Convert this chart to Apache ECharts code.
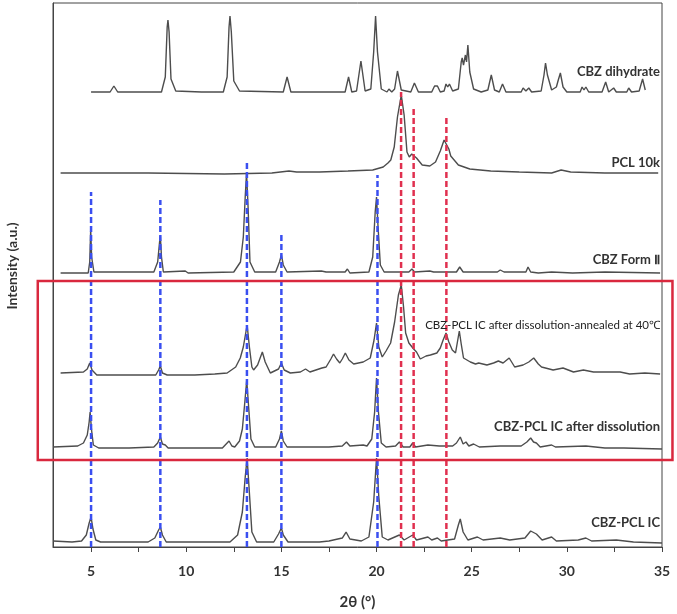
<!DOCTYPE html>
<html>
<head>
<meta charset="utf-8">
<script src="https://cdn.jsdelivr.net/npm/echarts@6/dist/echarts.min.js"></script>
<style>
  html, body { margin: 0; padding: 0; background: #fff; }
  #charts { width: 677px; height: 614px; }
</style>
</head>
<body>
<div id="charts"></div>
<script>
// 2theta tick positions
var tickValues = [5, 7.5, 10, 12.5, 15, 17.5, 20, 22.5, 25, 27.5, 30, 32.5, 35];
var labelValues = [5, 10, 15, 20, 25, 30, 35];

// stacked XRD traces, [2theta, intensity with offset]
var cbzDihydrate = [[5.0,455],[6.0,455],[6.2,461],[6.4,455],[8.7,455],[8.9,470],[9.0,520],[9.04,527],[9.1,515],[9.2,468],[9.45,456],[10.8,455],[10.9,457],[11.0,455],[11.95,455],[12.15,470],[12.25,520],[12.3,531],[12.37,515],[12.5,466],[12.8,456],[15.1,455],[15.3,470],[15.5,455],[18.35,455],[18.53,470],[18.7,455],[18.95,456],[19.18,486],[19.4,456],[19.7,458],[19.85,495],[19.95,531],[20.05,495],[20.25,458],[20.55,455],[20.65,458],[20.8,455],[20.95,458],[21.1,476],[21.3,457],[21.8,455],[21.99,464],[22.2,455],[22.9,455],[23.05,461],[23.12,459],[23.2,461],[23.35,455],[23.55,456],[23.65,463],[23.74,460],[23.83,463],[24.0,456],[24.3,458],[24.45,485],[24.5,489],[24.57,482],[24.67,492],[24.73,485],[24.8,502],[24.9,475],[25.1,458],[25.5,455],[25.85,457],[26.03,472],[26.2,457],[26.45,455],[26.62,463],[26.8,455],[27.6,455],[27.7,459],[27.85,456],[28.0,459],[28.15,455],[28.65,456],[28.8,472],[28.88,484],[28.98,472],[29.2,457],[29.45,460],[29.55,467],[29.66,474],[29.8,460],[30.0,455],[30.7,455],[30.8,460],[30.9,457],[31.0,460],[31.15,455],[31.85,455],[32.04,465],[32.2,455],[32.46,459],[32.6,455],[33.15,455],[33.25,459],[33.4,455],[33.8,456],[33.98,468],[34.12,457]];

var pcl10k = [[3.4,374],[8,374],[12,373],[14.5,374],[15.4,376],[15.8,375],[17,375],[18.5,376],[19.8,377],[20.35,380],[20.6,384],[20.75,387],[20.93,400],[21.1,430],[21.3,452],[21.45,432],[21.6,395],[21.72,390],[21.85,393],[21.95,395],[22.1,389],[22.4,382],[22.8,381],[23.1,385],[23.35,396],[23.55,407],[23.65,409],[23.8,398],[23.9,391],[24.0,389],[24.3,382],[24.9,378],[26,376],[27.5,375],[29.2,374],[29.7,377],[30.2,375],[32,374],[34.8,374]];

var cbzFormII = [[3.4,274],[4.85,274],[4.93,285],[4.98,317],[5.03,290],[5.15,275],[8.3,275],[8.5,285],[8.6,305],[8.64,311],[8.7,290],[8.8,275],[9.95,276],[10.1,274],[12.5,275],[12.85,285],[13.0,310],[13.1,350],[13.17,374],[13.25,340],[13.35,285],[13.6,275],[14.7,275],[14.9,285],[15.0,292],[15.1,282],[15.3,275],[17.1,276],[17.2,277],[17.35,275],[18.35,275],[18.47,278],[18.6,274],[19.6,275],[19.8,290],[19.93,335],[20.0,350],[20.08,320],[20.2,282],[20.4,275],[21.7,275],[21.86,278],[22.0,275],[22.8,276],[23.0,275],[24.2,275],[24.37,280],[24.55,275],[26.35,275],[26.5,277],[26.7,275],[27.85,275],[27.96,280],[28.1,275],[28.5,274],[29.2,275],[30.3,274],[32.0,275],[34.9,274]];

var icAnnealed = [[3.4,174],[4.6,175],[4.8,178],[4.93,184],[5.05,177],[5.3,172],[7,172],[8.4,172],[8.55,177],[8.64,181],[8.75,174],[9.0,172],[10.2,172],[10.3,174],[10.45,172],[11.5,173],[12.15,174],[12.6,180],[12.84,189],[13.0,200],[13.2,222],[13.32,200],[13.45,180],[13.54,177],[13.75,182],[14.0,195],[14.15,185],[14.42,174],[14.85,178],[15.0,184],[15.15,177],[15.47,174],[16.0,175],[16.27,178],[16.5,175],[17.13,179],[17.35,180],[17.6,188],[17.74,193],[17.9,188],[18.07,184],[18.2,188],[18.36,194],[18.55,187],[18.8,183],[19.3,185],[19.67,189],[19.87,207],[20.0,224],[20.12,200],[20.3,190],[20.5,196],[20.74,204],[20.95,225],[21.15,252],[21.3,262],[21.42,240],[21.53,214],[21.7,204],[21.95,198],[22.1,195],[22.3,188],[22.4,187],[22.6,191],[22.83,192],[23.17,194],[23.35,199],[23.5,207],[23.65,214],[23.8,205],[23.98,197],[24.15,194],[24.25,205],[24.35,216],[24.45,203],[24.57,189],[24.93,185],[25.2,183],[25.37,184],[25.8,182],[26.15,184],[26.4,186],[26.65,184],[26.97,189],[27.26,180],[27.7,182],[28.0,185],[28.26,189],[28.5,183],[28.67,180],[29.28,177],[29.8,179],[30.35,175],[30.87,177],[31.4,175],[32.1,175],[32.8,175],[33.3,173],[34.1,174],[34.9,173]];

var icDissolved = [[3.0,100],[4.3,101],[4.6,104],[4.8,112],[4.9,125],[4.95,135],[5.02,118],[5.12,102],[5.4,99],[7,99],[8.3,100],[8.5,104],[8.64,110],[8.75,103],[8.9,102],[9.05,99],[9.9,99],[10.0,101],[10.1,99],[11.9,99],[12.1,103],[12.25,106],[12.4,101],[12.55,100],[12.8,106],[12.95,118],[13.08,145],[13.18,167],[13.28,140],[13.4,108],[13.6,100],[14.7,100],[14.9,108],[15.0,116],[15.1,106],[15.3,100],[17.5,100],[18.2,101],[18.42,105],[18.6,101],[19.3,102],[19.5,101],[19.75,108],[19.9,135],[20.0,169],[20.1,135],[20.25,104],[20.5,100],[21.0,101],[21.2,105],[21.4,100],[21.75,100],[21.9,104],[22.05,100],[22.7,102],[23.3,101],[24.0,101],[24.2,104],[24.4,110],[24.55,103],[24.7,105],[24.85,101],[25.1,103],[25.4,100],[26.5,101],[27.6,101],[27.9,105],[28.1,109],[28.25,105],[28.4,104],[28.6,100],[29.2,102],[29.4,100],[31.0,101],[32,99],[33,99],[35,98]];

var icPristine = [[3.0,6],[4.0,5],[4.5,6],[4.75,12],[4.9,24],[5.0,30],[5.1,18],[5.25,7],[5.5,5],[8.0,5],[8.35,9],[8.55,17],[8.64,20],[8.75,12],[8.95,5],[9.9,5],[10.0,7],[10.1,5],[12.3,5],[12.7,12],[12.95,35],[13.1,70],[13.2,89],[13.3,60],[13.45,15],[13.7,5],[14.6,5],[14.85,13],[15.0,19],[15.1,12],[15.35,5],[17.0,5],[17.5,6],[18.2,9],[18.4,15],[18.6,8],[19.2,6],[19.6,10],[19.85,45],[20.0,89],[20.12,50],[20.3,10],[20.6,7],[21.2,12],[21.45,7],[21.9,12],[22.1,7],[22.7,10],[22.9,7],[23.2,9],[23.4,6],[24.1,8],[24.3,22],[24.4,28],[24.55,15],[24.8,7],[25.3,10],[25.6,7],[26.5,9],[27.0,7],[27.8,9],[28.1,16],[28.4,13],[28.7,7],[29.2,10],[29.45,6],[30.6,7],[31.0,9],[31.3,6],[32.6,7],[33.5,5],[35,4]];

// reference peak lines: position and top
var blueLineX = [5.0, 8.64, 13.19, 15.0, 20.05];
var blueLineTop = [355, 347, 384, 314, 372];
var redLineX = [21.29, 21.95, 23.67];
var redLineTop = [455, 440, 431];

var traceNames = ['CBZ dihydrate', 'PCL 10k', 'CBZ Form \u2161', 'CBZ-PCL IC after dissolution-annealed at 40\u2103', 'CBZ-PCL IC after dissolution', 'CBZ-PCL IC'];
var traces = [cbzDihydrate, pcl10k, cbzFormII, icAnnealed, icDissolved, icPristine];
// label anchor heights (same units as y axis)
var labelY = [475, 384, 287, 222, 120, 24];

var myChart = echarts.init(document.getElementById('charts'));

var series = [];
for (var i = 0; i < traces.length; i++) {
    series.push({
        name: traceNames[i],
        type: 'line',
        data: traces[i],
        symbol: 'none',
        z: 2,
        lineStyle: { color: '#4d4d4d', width: 1.4 }
    });
}
for (var j = 0; j < blueLineX.length; j++) {
    series.push({
        type: 'line',
        data: [[blueLineX[j], 0], [blueLineX[j], blueLineTop[j]]],
        symbol: 'none',
        z: 3,
        lineStyle: { color: '#3a4ff0', width: 2.5, type: [6, 3] }
    });
}
for (var k = 0; k < redLineX.length; k++) {
    series.push({
        type: 'line',
        data: [[redLineX[k], 0], [redLineX[k], redLineTop[k]]],
        symbol: 'none',
        z: 3,
        lineStyle: { color: '#e0304f', width: 2.5, type: [6, 3] }
    });
}

option = {
    animation: false,
    grid: {
        left: 53, right: 15, top: 3, bottom: 67,
        outerBoundsMode: 'none',
        containLabel: false,
        show: true, borderColor: '#444', borderWidth: 1
    },
    xAxis: {
        type: 'value',
        min: 3,
        max: 35,
        name: '2\u03b8 (\u00b0)',
        nameLocation: 'middle',
        nameGap: 48,
        nameTextStyle: { fontFamily: 'Lato', fontWeight: 'bold', fontSize: 15, color: '#333' },
        axisLine: { lineStyle: { color: '#444', width: 1 } },
        axisTick: { show: true, length: 5, customValues: tickValues, lineStyle: { color: '#444' } },
        axisLabel: { customValues: labelValues, fontFamily: 'Lato', fontWeight: 'bold', fontSize: 14, color: '#333', margin: 17 },
        splitLine: { show: false }
    },
    yAxis: {
        type: 'value',
        min: 0,
        max: 544,
        name: 'Intensity (a.u.)',
        nameLocation: 'middle',
        nameGap: 34,
        nameTextStyle: { fontFamily: 'Lato', fontWeight: 'bold', fontSize: 14, color: '#333', padding: [0, 0, 0, 18] },
        axisLine: { show: true, lineStyle: { color: '#444', width: 1 } },
        axisTick: { show: false },
        axisLabel: { show: false },
        splitLine: { show: false }
    },
    series: series
};
myChart.setOption(option);

// trace labels and red highlight box
var graphics = [];
for (var m = 0; m < traceNames.length; m++) {
    var p = myChart.convertToPixel({ gridIndex: 0 }, [35, labelY[m]]);
    graphics.push({
        type: 'text',
        x: p[0] - 2,
        y: p[1],
        z: 10,
        style: {
            text: traceNames[m],
            align: 'right',
            verticalAlign: 'middle',
            fontFamily: 'Lato',
            fontWeight: m === 3 ? 'normal' : 'bold',
            fontSize: m === 3 ? 11.5 : 13,
            fill: m === 3 ? '#222' : '#333'
        }
    });
}
var boxTL = myChart.convertToPixel({ gridIndex: 0 }, [2.2, 266]);
var boxBR = myChart.convertToPixel({ gridIndex: 0 }, [35.55, 87]);
graphics.push({
    type: 'rect',
    z: 10,
    shape: { x: boxTL[0], y: boxTL[1], width: boxBR[0] - boxTL[0], height: boxBR[1] - boxTL[1] },
    style: { fill: 'none', stroke: '#d9283e', lineWidth: 2.5 }
});
myChart.setOption({ graphic: graphics });
</script>
</body>
</html>
